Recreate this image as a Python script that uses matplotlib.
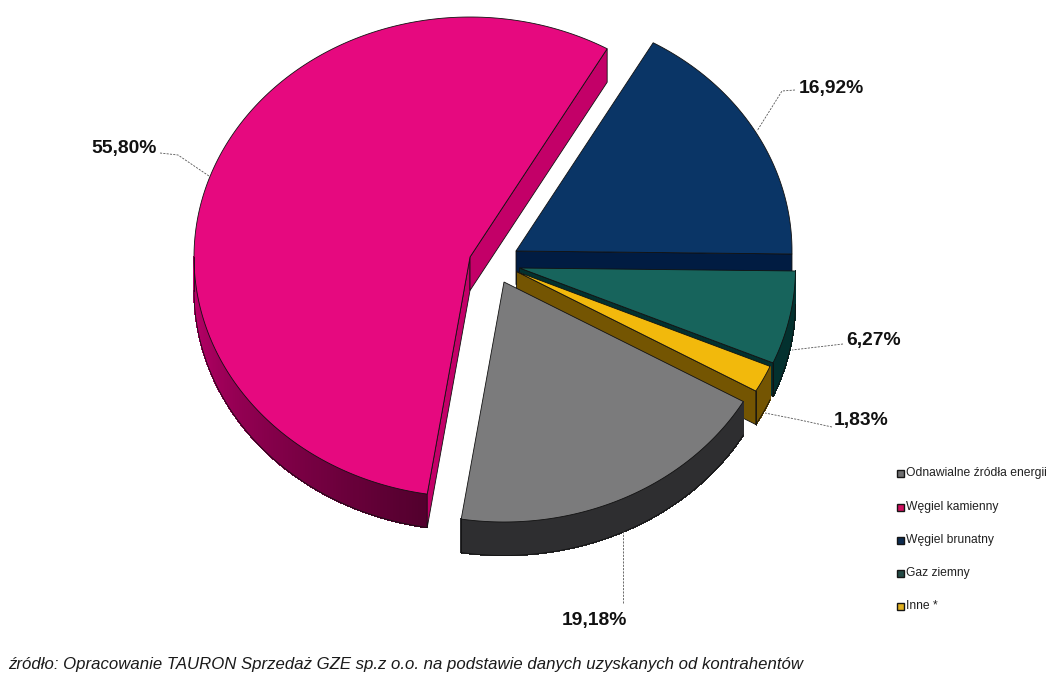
#!/usr/bin/env python
import numpy as np
import matplotlib
matplotlib.use('Agg')
import matplotlib.pyplot as plt
from matplotlib.patches import Polygon, Rectangle
from matplotlib.colors import to_rgb

# slices, clockwise from the top of the blue one
names = ['Węgiel brunatny', 'Gaz ziemny', 'Inne *', 'Odnawialne źródła energii', 'Węgiel kamienny']
shares = [16.92, 6.27, 1.83, 19.18, 55.80]
legend_order = [3, 4, 0, 1, 2]
source_text = 'źródło: Opracowanie TAURON Sprzedaż GZE sp.z o.o. na podstawie danych uzyskanych od kontrahentów'

top_cols = ['#0a3566', '#17645c', '#f2b90c', '#7b7b7c', '#e6097f']
side_cols = ['#011c42', '#03312f', '#745502', '#2e2e30', '#c30068']
# wall colour at the start and the end of the visible wall
wall_a = ['#011c42', '#03312f', '#745502', '#2e2e30', '#52002d']
wall_b = ['#011c42', '#03312f', '#745502', '#2e2e30', '#c0006c']
legend_cols = ['#0d2b50', '#234a45', '#e0b020', '#6f6f70', '#d0105f']

# layout, in pixels
W, H = 1062, 680
RX, RY, DEPTH = 276, 240, 33.5
START = 60.2
apex = [(516, 251), (519.5, 268), (516.5, 271.5), (504, 282), (470, 257)]
label_pos = [(831.5, 89), (873.5, 341), (861.5, 420), (594, 621), (124, 148)]
leaders = [
    [(795, 90), (782, 91), (757, 131)],
    [(843, 344), (792, 350)],
    [(832, 427), (800, 420), (765, 413)],
    [(623, 603), (623, 531)],
    [(160, 153), (178, 155), (209, 176)],
]
legend_y = [473, 507, 540, 573, 606]


def rim(c, t):
    t = np.radians(t)
    return np.column_stack([c[0] + RX*np.cos(t), c[1] - RY*np.sin(t)])


def draw_face(ax, c, t, col):
    p = rim(c, np.array([t]))[0]
    pts = [c, p, (p[0], p[1]+DEPTH), (c[0], c[1]+DEPTH)]
    ax.add_patch(Polygon(pts, fc=col, ec='#111111', lw=0.6))


def draw_wall(ax, c, t0, t1, col_a, col_b):
    # only the part of the wall turned to the viewer, which is t in 0 .. -180
    hi = min(t0, 0)
    lo = max(t1, -180)
    if hi - lo < 1:
        return
    ts = np.linspace(hi, lo, 120)
    a, b = np.array(to_rgb(col_a)), np.array(to_rgb(col_b))
    top = rim(c, ts)
    low = top + [0, DEPTH]
    for i in range(len(ts)-1):
        col = a + (b-a)*i/(len(ts)-2)
        pts = [top[i], top[i+1], low[i+1], low[i]]
        ax.add_patch(Polygon(pts, fc=col, ec=col, lw=0.5, antialiased=False))
    ax.plot(low[:, 0], low[:, 1], color='#111111', lw=0.6)
    ax.plot([low[-1, 0], top[-1, 0]], [low[-1, 1], top[-1, 1]], color='#111111', lw=0.6)


def main():
    plt.rcParams['font.family'] = ['Liberation Sans', 'DejaVu Sans']
    fig = plt.figure(figsize=(W/100, H/100), dpi=100)
    ax = fig.add_axes([0, 0, 1, 1])
    ax.set_xlim(0, W)
    ax.set_ylim(H, 0)
    ax.axis('off')

    # slice limits from the shares
    ends = START - np.cumsum(shares)*3.6
    starts = np.concatenate([[START], ends[:-1]])

    # back to front: pink, blue, green, yellow, gray
    for i in [4, 0, 1, 2, 3]:
        t0, t1 = starts[i], ends[i]
        draw_wall(ax, apex[i], t0, t1, wall_a[i], wall_b[i])
        # cut faces show only when they turn towards the viewer
        if np.cos(np.radians(t0)) < 0:
            draw_face(ax, apex[i], t0, side_cols[i])
        if np.cos(np.radians(t1)) > 0:
            draw_face(ax, apex[i], t1, side_cols[i])
        ts = np.linspace(t0, t1, 200)
        pts = np.vstack([[apex[i]], rim(apex[i], ts)])
        ax.add_patch(Polygon(pts, fc=top_cols[i], ec='#111111', lw=0.6))

    for i, v in enumerate(shares):
        ax.text(label_pos[i][0], label_pos[i][1], ('%.2f%%' % v).replace('.', ','),
                ha='center', va='center', fontsize=13.9, fontweight='bold', color='#111111')
        xs, ys = zip(*leaders[i])
        ax.plot(xs, ys, color='#555555', lw=0.6, ls=(0, (2.5, 1.5)))

    for y, i in zip(legend_y, legend_order):
        ax.add_patch(Rectangle((897, y-3), 7, 7, fc=legend_cols[i], ec='#151515', lw=1.0))
        ax.text(906, y, names[i], ha='left', va='center', fontsize=8.7, color='#222222')

    ax.text(8, 664, source_text, ha='left', va='center', fontsize=12.08,
            style='italic', color='#1a1a1a')

    fig.savefig('out.png', dpi=100)


if __name__ == '__main__':
    main()
